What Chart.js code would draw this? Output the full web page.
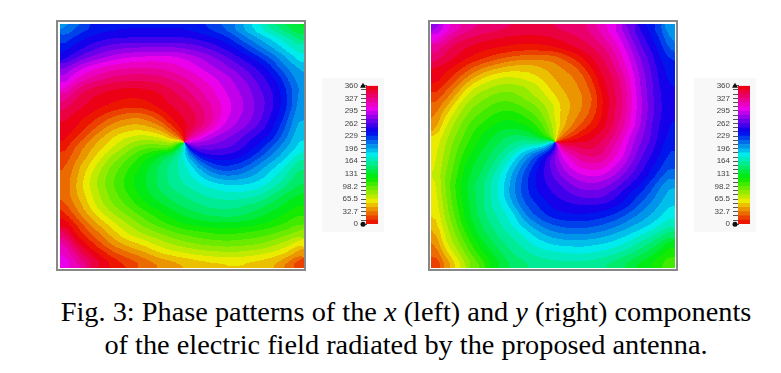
<!DOCTYPE html>
<html>
<head>
<meta charset="utf-8">
<title>Fig. 3</title>
<script src="https://cdn.jsdelivr.net/npm/chart.js@4"></script>
<style>
  html,body{margin:0;padding:0;background:#fff;}
  body{position:relative;width:781px;height:373px;overflow:hidden;}
  .frame{position:absolute;box-sizing:border-box;border:2px solid #888;background:#fff;}
  .box{position:absolute;}
  .bar{position:absolute;background:#f8f8f8;}
  canvas{display:block;}
  .cap{position:absolute;left:0;width:812px;text-align:center;font-family:"Liberation Serif",serif;font-size:27px;color:#000;white-space:nowrap;line-height:30px;transform:scaleX(1.049);transform-origin:406px 0;}
</style>
</head>
<body>
<div class="frame" style="left:56px;top:20px;width:250px;height:251px;"></div>
<div class="frame" style="left:428px;top:20px;width:250px;height:251px;"></div>
<div class="box" style="left:60px;top:24px;width:244px;height:244px;"><canvas id="left"></canvas></div>
<div class="box" style="left:431px;top:24px;width:244px;height:244px;"><canvas id="right"></canvas></div>
<div class="bar" style="left:322px;top:78px;width:62px;height:154px;"><canvas id="barL"></canvas></div>
<div class="bar" style="left:694px;top:78px;width:62px;height:154px;"><canvas id="barR"></canvas></div>
<div class="cap" style="top:297px;">Fig. 3: Phase patterns of the <i>x</i> (left) and <i>y</i> (right) components</div>
<div class="cap" style="top:330px;">of the electric field radiated by the proposed antenna.</div>

<script>
// phase in degrees, top row first
const leftPhase = [
  [205,215,224,230,234,236,238,238,238,238,238,238,238,236,232,226,218,210,198,186,174,162,150,140,130],
  [222,232,240,245,248,250,251,252,252,252,252,252,252,250,247,243,238,229,216,205,195,186,176,165,150],
  [236,244,250,258,265,270,272,273,274,274,274,274,273,270,265,259,252,244,235,222,210,199,188,178,168],
  [246,258,270,277,284,290,294,297,299,300,300,300,296,290,284,277,270,260,251,242,232,218,206,194,180],
  [272,286,296,303,308,312,314,316,316,316,314,310,306,301,293,286,280,273,265,256,247,236,216,205,195],
  [285,300,310,317,323,329,331,332,332,331,329,324,318,312,305,298,291,284,275,265,256,246,233,214,200],
  [302,320,332,339,344,347,349,349,348,346,342,336,330,322,314,306,296,289,281,273,262,252,240,223,205],
  [320,336,345,350,354,356,358,359,358,356,351,344,337,330,320,312,302,293,285,276,267,256,243,226,203],
  [335,343,349,354,359,3,7,8,6,1,354,349,345,338,328,317,307,296,287,278,268,256,243,226,200],
  [345,353,359,6,14,22,28,31,30,22,10,355,350,343,333,320,305,293,284,276,266,252,239,217,197],
  [352,358,6,17,29,38,44,47,46,40,31,8,355,345,332,316,298,287,279,270,259,246,230,211,192],
  [355,5,19,33,44,54,61,65,67,64,58,40,8,325,305,288,280,273,265,255,247,240,222,205,186],
  [5,20,33,44,53,64,73,83,90,92,90,85,150,275,272,271,268,265,255,246,238,222,208,195,183],
  [12,27,38,52,65,78,88,100,112,122,135,148,172,208,244,250,250,248,244,235,222,209,197,185,172],
  [20,33,49,62,77,90,100,112,122,134,147,158,168,182,206,224,232,230,225,215,204,193,183,170,155],
  [24,38,54,70,84,96,107,118,128,138,148,158,166,175,186,200,208,210,206,200,192,182,172,160,148],
  [25,40,58,73,86,98,110,120,128,138,148,156,162,168,174,178,182,184,184,183,180,172,163,152,142],
  [25,40,54,68,82,94,104,115,124,133,141,148,153,158,163,167,170,172,172,170,165,156,145,137,130],
  [20,33,48,64,77,88,97,106,117,124,131,138,145,150,154,157,157,157,155,152,148,141,134,127,121],
  [8,25,40,54,66,77,86,94,102,110,118,125,132,138,142,146,148,148,146,141,135,129,123,117,110],
  [352,8,24,40,51,62,72,81,91,99,106,113,119,123,126,127,128,128,127,125,122,117,112,106,99],
  [335,0,13,25,38,50,62,69,76,82,88,94,99,102,106,108,110,110,108,106,103,100,95,90,82],
  [315,342,358,12,26,37,46,53,58,66,72,78,83,87,90,92,94,94,93,91,89,84,77,69,58],
  [305,325,342,356,7,20,27,34,40,49,56,61,64,67,70,72,73,74,73,71,68,64,60,52,38],
  [298,312,325,340,352,2,10,17,24,30,35,39,43,47,50,52,53,54,54,52,50,46,40,28,14]
];
const rightPhase = [
  [280,296,310,320,326,330,333,336,338,339,339,339,338,335,332,330,322,312,300,284,268,248,236,220,198],
  [300,316,331,337,342,346,349,351,353,354,354,353,350,347,342,337,331,319,308,295,274,258,243,228,205],
  [322,335,343,349,354,357,359,1,3,4,4,3,1,356,351,346,339,331,318,302,284,264,250,236,215],
  [332,341,349,356,2,9,16,21,26,29,30,30,30,22,11,0,350,340,327,309,292,272,258,240,228],
  [350,355,2,13,24,33,40,46,50,50,48,44,38,33,28,15,358,345,333,315,297,277,262,245,234],
  [352,4,16,30,44,56,63,66,65,62,58,52,44,38,34,26,10,351,340,325,303,282,264,248,236],
  [3,16,30,48,66,72,78,82,82,78,72,62,50,42,37,31,17,355,343,327,306,283,266,250,240],
  [15,28,45,66,78,85,91,94,92,85,78,70,58,48,40,34,24,2,345,330,309,285,267,252,241],
  [25,42,61,78,88,95,102,105,103,97,91,80,68,52,42,34,22,1,345,330,308,287,268,252,242],
  [32,55,72,86,97,105,112,116,117,110,101,88,68,50,38,29,15,0,343,327,305,285,267,252,242],
  [38,65,80,95,107,113,122,127,126,122,114,100,75,48,33,18,7,355,340,322,303,283,263,249,238],
  [55,72,86,100,113,124,132,140,144,143,133,110,80,31,14,1,352,343,333,314,292,276,263,248,236],
  [60,76,93,107,119,130,139,149,157,166,172,178,220,335,338,343,343,335,320,305,287,272,258,243,232],
  [62,80,97,113,127,137,147,160,176,195,214,239,268,298,312,328,330,328,313,300,282,264,252,239,226],
  [63,84,100,122,132,141,155,172,190,210,230,248,268,286,301,310,313,312,301,288,272,258,244,232,220],
  [65,88,105,124,136,148,165,181,201,220,238,250,262,276,287,295,298,296,287,276,262,250,238,224,210],
  [62,88,110,128,142,154,170,184,206,222,237,248,256,263,273,279,281,278,272,261,250,239,225,209,197],
  [60,86,108,127,141,153,168,186,205,222,235,243,250,256,262,267,268,267,258,248,238,227,216,202,192],
  [58,83,105,125,139,154,168,178,198,216,226,234,243,247,250,252,252,251,247,240,230,217,206,196,186],
  [55,79,100,122,138,152,162,172,182,205,219,229,236,239,240,240,239,236,231,224,214,205,197,189,178],
  [50,74,94,118,133,146,157,168,178,190,203,213,220,224,226,226,224,220,215,209,200,195,187,177,168],
  [42,68,87,107,127,140,151,160,168,177,187,196,204,207,209,209,207,204,198,192,186,178,170,160,150],
  [32,63,80,97,117,130,142,153,160,167,177,182,187,189,190,190,188,186,183,178,170,160,152,140,125],
  [24,50,68,88,106,122,133,145,154,160,165,170,172,174,176,176,175,172,168,162,154,146,136,125,112],
  [12,34,55,75,92,108,124,136,145,150,155,158,160,160,160,160,158,155,150,143,136,128,120,110,100]
];
const tickLabels = ['0','32.7','65.5','98.2','131','164','196','229','262','295','327','360'];
const levels = 33;

const step = 360/levels;
// same colour scale as the bar: hue follows phase
function hueRgb(h){
  const f = n => {
    const k = (n + h/30) % 12;
    return Math.round(255*(.46 - .46*Math.max(-1,Math.min(k-3,9-k,1))));
  };
  return [f(0),f(8),f(4)];
}
function css(h){ return 'rgb('+hueRgb(h).join(',')+')'; }
const bandRgb = [];
for(let k=0;k<levels;k++) bandRgb.push(hueRgb((k+.5)*step));

// soften the cell edges, then snap the result onto the bar's colour bands
const contourBands = {
  id:'contourBands',
  afterDatasetsDraw(chart){
    const {ctx,canvas} = chart, w = canvas.width, h = canvas.height;
    ctx.save();
    ctx.filter = 'blur(5px)';
    ctx.drawImage(canvas,0,0);
    ctx.restore();
    const img = ctx.getImageData(0,0,w,h), d = img.data;
    for(let i=0;i<d.length;i+=4){
      const r=d[i], g=d[i+1], b=d[i+2];
      const mx=Math.max(r,g,b), mn=Math.min(r,g,b), c=mx-mn;
      if(!c) continue;
      let hue = mx===r ? ((g-b)/c+6)%6 : mx===g ? (b-r)/c+2 : (r-g)/c+4;
      const rgb = bandRgb[Math.min(levels-1,Math.floor(hue*60/step))];
      d[i]=rgb[0]; d[i+1]=rgb[1]; d[i+2]=rgb[2]; d[i+3]=255;
    }
    ctx.putImageData(img,0,0);
  }
};

function drawField(id, rows){
  const points = [];
  rows.forEach((row,j)=>row.forEach((v,i)=>points.push({x:i,y:j,v})));
  new Chart(document.getElementById(id),{
    type:'scatter',
    data:{datasets:[{
      data:points,
      pointStyle:'rect',
      borderWidth:0,
      pointBorderWidth:0,
      pointBackgroundColor:c=>css(c.raw.v),
      // a rect point's radius is half its diagonal
      pointRadius:c=>{
        const s=c.chart.scales.x;
        return (Math.abs(s.getPixelForValue(1)-s.getPixelForValue(0))+.6)/Math.SQRT2;
      }
    }]},
    options:{
      responsive:true,maintainAspectRatio:false,animation:false,
      layout:{padding:0},
      plugins:{legend:{display:false},tooltip:{enabled:false}},
      events:[],
      scales:{
        x:{display:false,min:-.5,max:rows[0].length-.5},
        y:{display:false,min:-.5,max:rows.length-.5,reverse:true}
      }
    },
    plugins:[contourBands]
  });
}

const endMarks = {
  id:'endMarks',
  afterDraw(chart){
    const {ctx,scales:{y},chartArea:a}=chart;
    const x=a.left-3;
    ctx.save();
    ctx.fillStyle='#111';
    const t=y.getPixelForValue(360), b=y.getPixelForValue(0);
    ctx.beginPath();ctx.moveTo(x,t-3);ctx.lineTo(x+3,t+2);ctx.lineTo(x-3,t+2);ctx.closePath();ctx.fill();
    ctx.beginPath();ctx.arc(x,b,2.5,0,Math.PI*2);ctx.fill();
    ctx.restore();
  }
};

function drawBar(id){
  const sets=[];
  for(let k=0;k<levels;k++) sets.push({data:[step],backgroundColor:css((k+.5)*step),
    barPercentage:1,categoryPercentage:1,borderWidth:0});
  new Chart(document.getElementById(id),{
    type:'bar',
    data:{labels:['phase'],datasets:sets},
    options:{
      responsive:true,maintainAspectRatio:false,animation:false,events:[],
      layout:{padding:{top:5,bottom:7,right:6,left:0}},
      plugins:{legend:{display:false},tooltip:{enabled:false}},
      scales:{
        x:{stacked:true,display:false},
        y:{
          stacked:true,min:0,max:360,
          afterFit(s){s.width=44;},
          afterBuildTicks(s){
            const t=[];
            for(let k=0;k<=levels;k++) t.push({value:k*step});
            s.ticks=t;
          },
          border:{display:true,color:'#555'},
          grid:{drawOnChartArea:false,tickLength:5,color:'#555'},
          ticks:{
            autoSkip:false,padding:3,color:'#444',maxRotation:0,
            font:{family:'"Liberation Sans",Arial',size:8},
            callback(v,i){return i%3===0?tickLabels[i/3]:'';}
          }
        }
      }
    },
    plugins:[endMarks]
  });
}

drawField('left',leftPhase);
drawField('right',rightPhase);
drawBar('barL');
drawBar('barR');
</script>
</body>
</html>
